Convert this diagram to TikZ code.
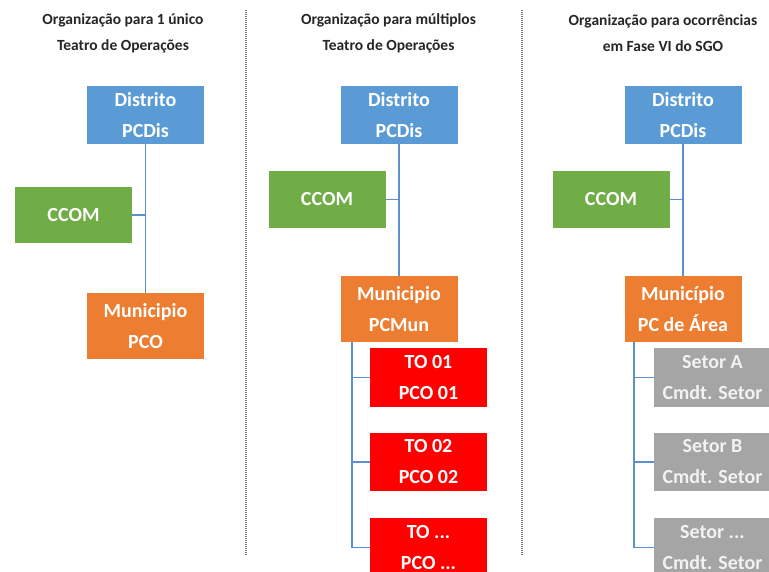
\documentclass[tikz,border=0pt]{standalone}
\usepackage{fontspec}
\setmainfont{Carlito}
\definecolor{cblue}{HTML}{5B9BD5}
\definecolor{cgreen}{HTML}{70AD47}
\definecolor{corange}{HTML}{ED7D31}
\definecolor{cred}{HTML}{FF0000}
\definecolor{cgray}{HTML}{A5A5A5}
\definecolor{cline}{HTML}{5B8FD0}
\tikzset{
  orgbox/.style={rectangle, inner sep=0pt, minimum width=117pt, text=white, align=center,
    font=\fontsize{20}{31}\selectfont\bfseries},
  distbox/.style={orgbox, fill=cblue, minimum height=58pt},
  ccombox/.style={orgbox, fill=cgreen, minimum height=57pt},
  munbox/.style={orgbox, fill=corange, minimum height=66pt},
  tobox/.style={orgbox, fill=cred, minimum height=59pt},
  setorbox/.style={orgbox, fill=cgray, minimum height=59pt, text=white!95!black},
  title/.style={align=center, font=\fontsize{15.5}{26}\selectfont\bfseries, text=black!85},
  link/.style={draw=cline, line width=1.8pt},
  sep/.style={draw=black!55, line width=1.3pt, dash pattern=on 1pt off 1pt}
}
\begin{document}
\begin{tikzpicture}[x=1pt, y=-1pt]
\useasboundingbox (0,0) rectangle (769,571);
\clip (0,0) rectangle (769,571);
\fill[white] (0,0) rectangle (769,571);

% column separators
\coordinate (s1a) at (246,10);
\coordinate (s1b) at (246,556);
\coordinate (s2a) at (522,10);
\coordinate (s2b) at (522,556);
\draw[sep] (s1a) -- (s1b);
\draw[sep] (s2a) -- (s2b);

% headings
\node[title] (t1) at (123,33) {Organização para 1 único\\Teatro de Operações};
\node[title] (t2) at (388.5,33) {Organização para múltiplos\\Teatro de Operações};
\node[title] (t3) at (663,33) {Organização para ocorrências\\em Fase VI do SGO};

% single theatre of operations
\node[distbox] (d1) at (145.5,115) {Distrito\\PCDis};
\node[ccombox, minimum height=56pt] (c1) at (73.5,215) {CCOM};
\node[munbox] (m1) at (145.5,326) {Municipio\\PCO};
\draw[link] (d1.south) -- (m1.north);
\draw[link] (c1.east) -- (c1.east -| d1.south);

% multiple theatres of operations
\node[distbox] (d2) at (399,115) {Distrito\\PCDis};
\node[ccombox] (c2) at (327,199.5) {CCOM};
\node[munbox] (m2) at (399,309) {Municipio\\PCMun};
\node[tobox] (r1) at (428.5,377.5) {TO 01\\PCO 01};
\node[tobox, minimum height=58pt] (r2) at (428.5,462) {TO 02\\PCO 02};
\node[tobox] (r3) at (428.5,547.5) {TO ...\\PCO ...};
\draw[link] (d2.south) -- (m2.north);
\draw[link] (c2.east) -- (c2.east -| d2.south);
\coordinate (b2) at (352,342);
\draw[link] (b2) |- (r1.west);
\draw[link] (b2) |- (r2.west);
\draw[link] (b2) |- (r3.west);

% phase VI occurrences
\node[distbox] (d3) at (683,115) {Distrito\\PCDis};
\node[ccombox] (c3) at (611,199.5) {CCOM};
\node[munbox] (m3) at (683,309) {Município\\PC de Área};
\node[setorbox] (g1) at (712.5,377.5) {Setor A\\Cmdt. Setor};
\node[setorbox, minimum height=58pt] (g2) at (712.5,462) {Setor B\\Cmdt. Setor};
\node[setorbox] (g3) at (712.5,547.5) {Setor ...\\Cmdt. Setor};
\draw[link] (d3.south) -- (m3.north);
\draw[link] (c3.east) -- (c3.east -| d3.south);
\coordinate (b3) at (634,342);
\draw[link] (b3) |- (g1.west);
\draw[link] (b3) |- (g2.west);
\draw[link] (b3) |- (g3.west);
\end{tikzpicture}
\end{document}
